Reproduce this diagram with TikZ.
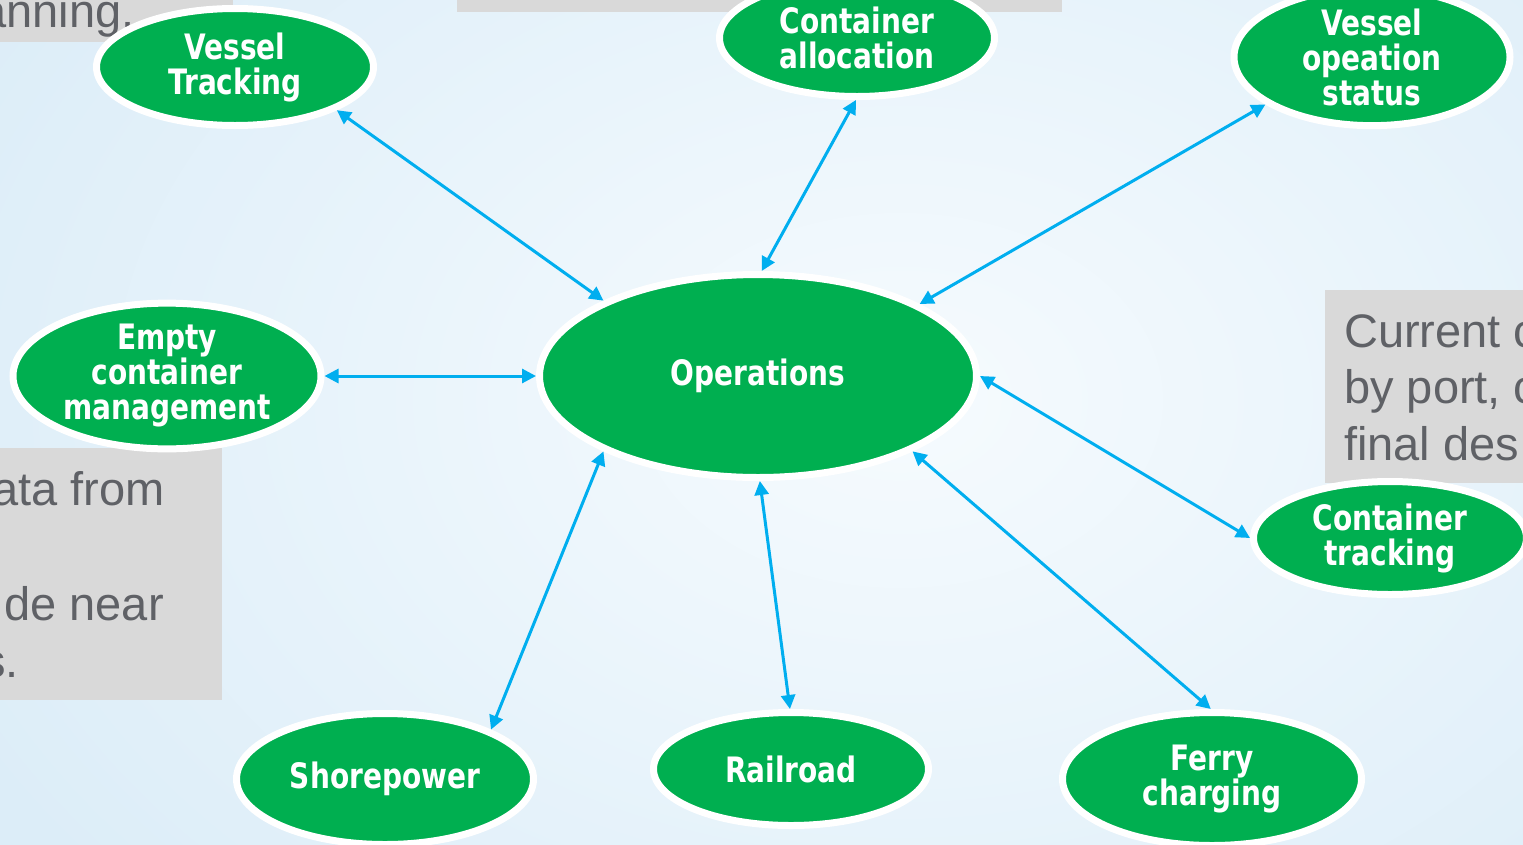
\documentclass[tikz,border=0pt]{standalone}
\usepackage{fontspec}
\setmainfont{Liberation Sans}
\newfontfamily\bubblefont[FakeStretch=0.8]{DejaVu Sans}
\usetikzlibrary{shapes.geometric,arrows.meta}
\definecolor{opgreen}{HTML}{00AF50}
\definecolor{linkblue}{HTML}{00AEEF}
\definecolor{boxgray}{HTML}{D9D9D9}
\definecolor{notegray}{HTML}{5F6166}
\definecolor{bgin}{HTML}{F6FBFE}
\definecolor{bgout}{HTML}{DCEDF8}

\begin{document}
\begin{tikzpicture}[x=1pt,y=-1pt]
    % Define styles
    \tikzset{
        bubble/.style={ellipse, fill=opgreen, draw=white, line width=7pt, text=white, inner sep=0pt, align=center, font=\bubblefont\bfseries\fontsize{35}{35}\selectfont},
        notebox/.style={fill=boxgray},
        note/.style={text=notegray, inner sep=0pt, font=\fontsize{47}{57}\selectfont},
        link/.style={<->, >={Triangle[length=14pt,width=14pt]}, draw=linkblue, line width=3pt}
    }

    % Background
    \useasboundingbox (0,0) rectangle (1523,844);
    \clip (0,0) rectangle (1523,844);
    \shade[inner color=bgin, outer color=bgout] (-150,-350) rectangle (1950,1150);

    % Note boxes
    \fill[notebox] (0,0) rectangle (233,42);
    \fill[notebox] (457,0) rectangle (1062,12);
    \fill[notebox] (0,448) rectangle (222,700);
    \fill[notebox] (1325,290) rectangle (1523,483);
    \node[note, anchor=base west] (note_top) at (-20,27) {anning.};
    \node[note, anchor=base east] (note_left_1) at (165,505) {ata from};
    \node[note, anchor=base east] (note_left_2) at (164,620) {de near};
    \node[note, anchor=base east] (note_left_3) at (19,677) {s.};
    \node[note, anchor=base west] (note_right_1) at (1344,347) {Current c};
    \node[note, anchor=base west] (note_right_2) at (1344,403) {by port, c};
    \node[note, anchor=base west] (note_right_3) at (1344,460) {final des};

    % Nodes
    \node[bubble, minimum width=277pt, minimum height=117pt] (vessel_tracking) at (235,67) {Vessel\\Tracking};
    \node[bubble, minimum width=275pt, minimum height=117pt] (container_alloc) at (857,38) {Container\\allocation};
    \node[bubble, minimum width=276pt, minimum height=118pt] (vessel_status) at (1372,57) {Vessel\\opeation\\status};
    \node[bubble, minimum width=308pt, minimum height=144pt] (empty_mgmt) at (167,376) {Empty\\container\\management};
    \node[bubble, minimum width=437pt, minimum height=203pt] (operations) at (758,376) {Operations};
    \node[bubble, minimum width=273pt, minimum height=113pt] (container_tracking) at (1390,538) {Container\\tracking};
    \node[bubble, minimum width=297pt, minimum height=131pt] (shorepower) at (385,779) {Shorepower};
    \node[bubble, minimum width=275pt, minimum height=113pt] (railroad) at (791,769) {Railroad};
    \node[bubble, minimum width=299pt, minimum height=133pt] (ferry) at (1212,779) {Ferry\\charging};

    % Arrows
    \draw[link] (vessel_tracking.-23) -- (operations.154);
    \draw[link] (container_alloc.-91) -- (operations.88);
    \draw[link] (vessel_status.-156) -- (operations.24);
    \draw[link] (empty_mgmt.0) -- (operations.180);
    \draw[link] (operations.0) -- (container_tracking.180);
    \draw[link] (operations.206) -- (shorepower.25);
    \draw[link] (operations.-89) -- (railroad.91);
    \draw[link] (operations.-26) -- (ferry.91);
\end{tikzpicture}
\end{document}
